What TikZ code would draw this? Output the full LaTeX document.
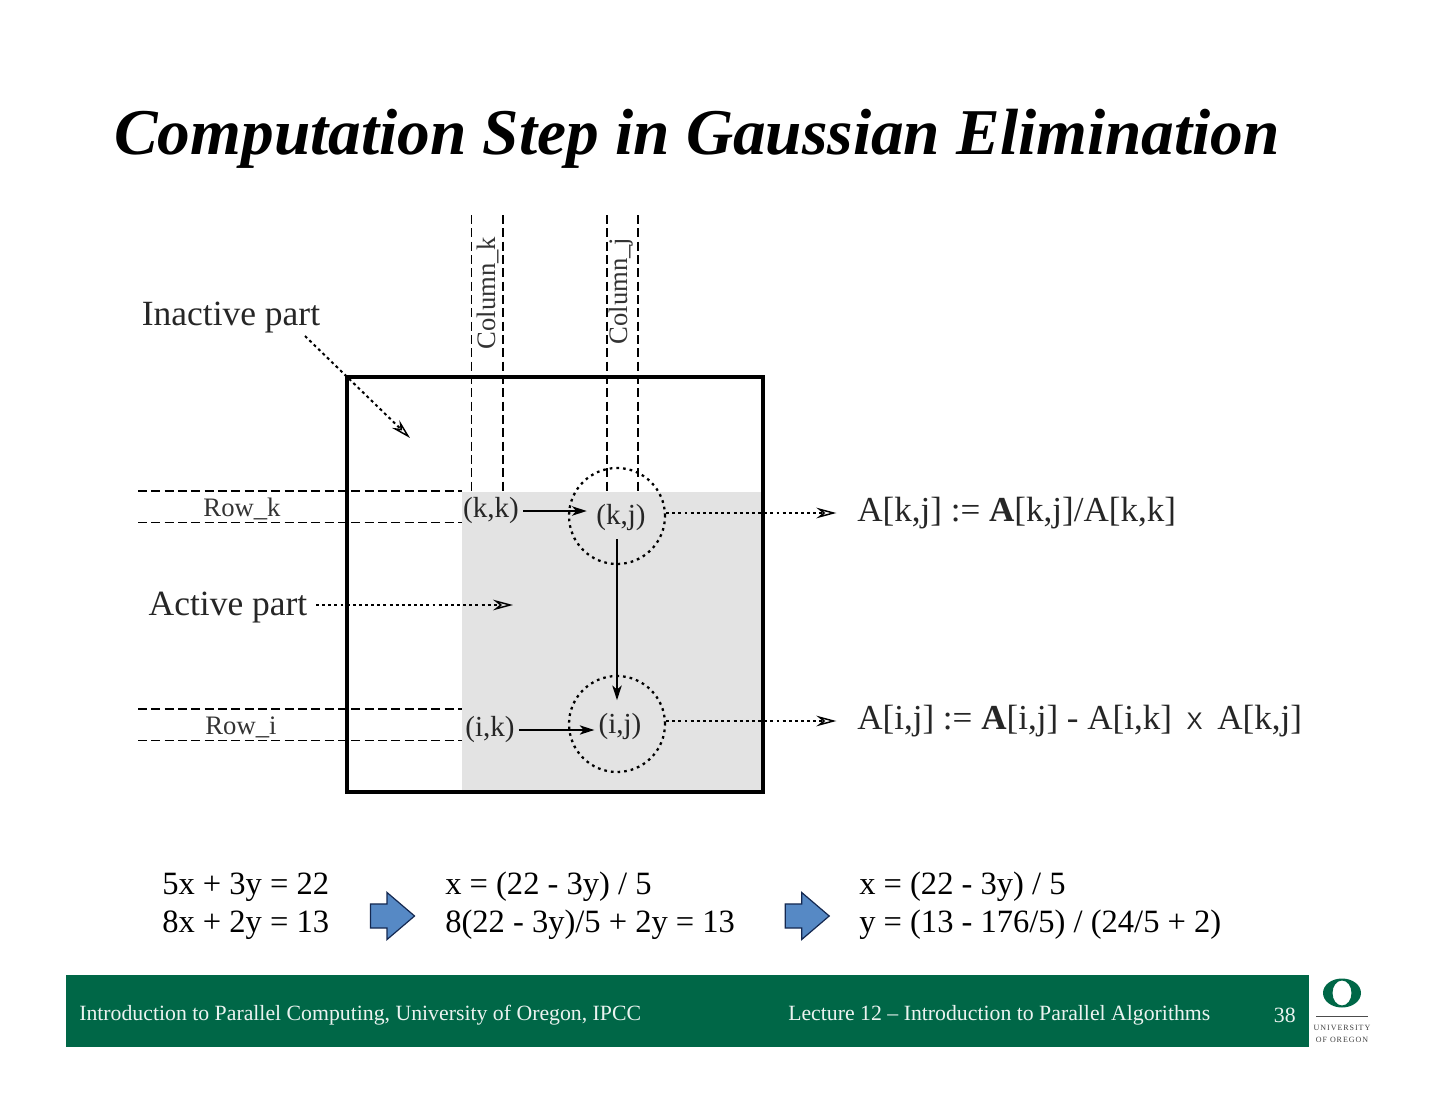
\documentclass[tikz,border=0pt]{standalone}
\usepackage{fontspec}
\setmainfont{Liberation Serif}
\setsansfont{Liberation Sans}
\usetikzlibrary{arrows.meta,shapes.arrows}
\definecolor{oregongreen}{RGB}{0,103,71}
\definecolor{activegray}{RGB}{227,227,227}
\definecolor{stepblue}{RGB}{86,137,197}
\definecolor{stepedge}{RGB}{20,40,80}
\tikzset{
  sized/.style={font=\fontsize{#1}{#1}\selectfont},
  cell/.style={sized=21.8,inner sep=3pt,text=black!85},
  part/.style={sized=26.6,inner sep=3pt,text=black!85},
  update/.style={sized=26.3,inner sep=3pt,anchor=west,text=black!85},
  tag/.style={sized=20,inner sep=0pt,text=black!80},
  ring/.style={draw,circle,line width=1.7pt,dash pattern=on 2pt off 3pt,minimum size=72pt,inner sep=0pt},
  lightdash/.style={line width=0.75pt,dash pattern=on 6.8pt off 3.2pt},
  heavydash/.style={line width=2pt,dash pattern=on 6.8pt off 3.2pt},
  note/.style={line width=1.5pt,dash pattern=on 2.2pt off 2.4pt,-{Stealth[open,length=15pt,width=8pt,inset=5pt,line width=1.1pt]}},
  flow/.style={line width=1.4pt,-{Stealth[length=11pt,width=7pt,inset=3pt]}},
  equation/.style={anchor=west,align=left,inner sep=0pt,font=\fontsize{24.4}{28.5}\selectfont},
  stepper/.style={draw=stepedge,fill=stepblue,line width=0.9pt,single arrow,shape border rotate=0,
    minimum height=33pt,minimum width=34.5pt,inner sep=0pt,inner ysep=8.6pt,
    single arrow head extend=8.6pt,single arrow head indent=0pt,single arrow tip angle=81},
  footer/.style={sized=16.33,text=white!92!oregongreen,inner sep=0pt}
}
\begin{document}
\begin{tikzpicture}[x=0.75pt,y=-0.75pt]
  \useasboundingbox (0,0) rectangle (1440,1113);
  \node (title) [anchor=base west,inner sep=0pt,font=\fontsize{49}{49}\selectfont\bfseries\itshape] at (114,155)
    {Computation Step in Gaussian Elimination};

  % grey part first, everything else lies on it
  \fill[activegray] (462,492) coordinate (activeTL) rectangle (763,792) coordinate (activeBR);

  \coordinate (rowkA) at (138,491);  \coordinate (rowkB) at (462,491);
  \coordinate (rowkC) at (138,522);  \coordinate (rowkD) at (462,522);
  \coordinate (rowiA) at (138,709);  \coordinate (rowiB) at (462,709);
  \coordinate (rowiC) at (138,740);  \coordinate (rowiD) at (462,740);
  \coordinate (colkA) at (471,215);  \coordinate (colkB) at (471,492);
  \coordinate (colkC) at (503,215);  \coordinate (colkD) at (503,492);
  \coordinate (coljA) at (607,215);  \coordinate (coljB) at (607,492);
  \coordinate (coljC) at (638,215);  \coordinate (coljD) at (638,492);
  \draw[heavydash] (rowkA) -- (rowkB);
  \draw[lightdash] (rowkC) -- (rowkD);
  \draw[heavydash] (rowiA) -- (rowiB);
  \draw[lightdash] (rowiC) -- (rowiD);
  \draw[lightdash] (colkA) -- (colkB);
  \draw[heavydash] (colkC) -- (colkD);
  \draw[heavydash] (coljA) -- (coljB);
  \draw[lightdash,line width=1.2pt] (coljC) -- (coljD);

  \draw[line width=2.4pt] (347,377) rectangle (763,792);

  \node (rowk) [tag] at (242,509) {Row\_k};
  \node (rowi) [tag] at (241,727) {Row\_i};
  \node (colk) [tag,rotate=90] at (488,293) {Column\_k};
  \node (colj) [tag,rotate=90] at (621,291) {Column\_j};

  \node (kk) [cell] at (491,511) {(k,k)};
  \node (kj) [cell] at (621,518) {(k,j)};
  \node (ik) [cell] at (490,730) {(i,k)};
  \node (ij) [cell] at (620,727) {(i,j)};
  \node (kjring) [ring] at (617,516) {};
  \node (ijring) [ring,below of=kjring,node distance=156pt] {};

  \node (inactive) [part] at (231,318) {Inactive part};
  \node (active) [part] at (228,608) {Active part};
  \coordinate (inactivetail) at (305,336);
  \coordinate (inactivetip) at (410,438);
  \coordinate (activetail) at (316,605);
  \coordinate (activetip) at (513,605);
  \node (eqk) [update] at (853,513) {A[k,j] := \textbf{A}[k,j]/A[k,k]};
  \node (eqi) [update] at (853,721) {A[i,j] := \textbf{A}[i,j] - A[i,k] \,{\sffamily\fontsize{18}{18}\selectfont X}\, A[k,j]};

  \draw[note] (inactivetail) -- (inactivetip);
  \draw[note] (activetail) -- (activetip);
  \draw[note,shorten >=12.5pt] (kjring.east |- eqk.west) -- (eqk.west);
  \draw[note,shorten >=12.5pt] (ijring.east |- eqi.west) -- (eqi.west);
  \draw[flow,shorten >=4pt] (kk.east) -- (kk.east -| kj.west);
  \draw[flow,line width=0.9pt] (ik.east) -- (ik.east -| ij.west);
  \draw[flow,line width=1.6pt,shorten <=3pt,shorten >=7pt] (kjring.center |- kj.south) -- (ijring.center |- ij.north);

  \node (sysa) [equation] at (162,906) {5x + 3y = 22\\8x + 2y = 13};
  \node (sysb) [equation] at (445,906) {x = (22 - 3y) / 5\\8(22 - 3y)/5 + 2y = 13};
  \node (sysc) [equation] at (859,906) {x = (22 - 3y) / 5\\y = (13 - 176/5) / (24/5 + 2)};
  \node (stepa) [stepper] at (385.5,916) {};
  \node (stepb) [stepper,right of=stepa,node distance=311pt] {};

  \fill[oregongreen] (66,975) rectangle (1309,1047);
  \node (course) [footer,anchor=west] at (79,1015) {Introduction to Parallel Computing, University of Oregon, IPCC};
  \node (lecture) [footer,anchor=west] at (788,1015) {Lecture 12 – Introduction to Parallel Algorithms};
  \node (page) [footer,anchor=east] at (1296,1015) {38};

  % logo
  \fill[oregongreen,even odd rule] (1342,993) ellipse [x radius=19,y radius=14.5] (1342,993) ellipse [x radius=9.5,y radius=12.5];
  \draw[black!70,line width=0.7pt] (1316,1016) -- (1368,1016);
  \node (univ) [inner sep=0pt,text=black!75,font=\fontsize{6}{6}\selectfont\addfontfeature{LetterSpace=12}] at (1342,1028) {UNIVERSITY};
  \node (oreg) [inner sep=0pt,text=black!75,font=\fontsize{6}{6}\selectfont\addfontfeature{LetterSpace=12}] at (1342,1040) {OF OREGON};
\end{tikzpicture}
\end{document}
